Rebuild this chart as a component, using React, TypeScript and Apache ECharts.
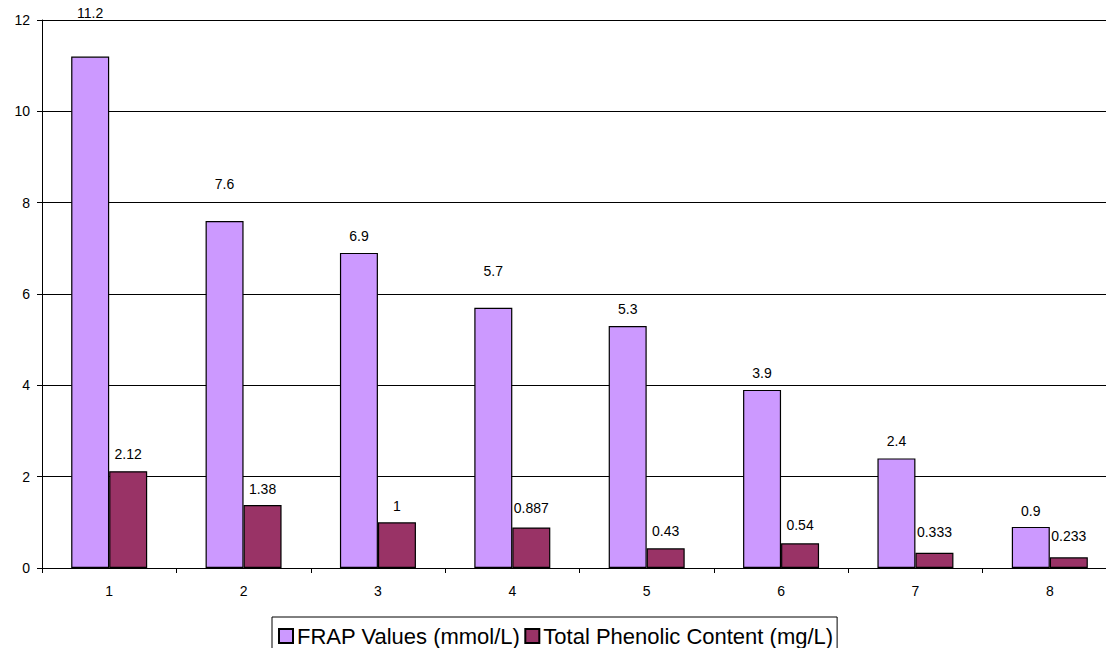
import React, { useEffect, useRef } from "react";
import * as echarts from "echarts";

const categories = ["1", "2", "3", "4", "5", "6", "7", "8"];
const frapValues = [11.2, 7.6, 6.9, 5.7, 5.3, 3.9, 2.4, 0.9];
const phenolicValues = [2.12, 1.38, 1, 0.887, 0.43, 0.54, 0.333, 0.233];
const yTicks = [0, 2, 4, 6, 8, 10, 12];
const seriesNames = ["FRAP Values (mmol/L)", "Total Phenolic Content (mg/L)"];

// label lift styling (pixels above bar top), not data
const frapLabelDistance = [37, 30, 10, 30, 10, 10, 10, 9];
const phenolicLabelDistance = [10, 9, 9, 12, 10, 11, 14, 14];

const FONT = "'Liberation Sans', Arial, sans-serif";

export default function App() {
  const ref = useRef<HTMLDivElement>(null);
  useEffect(() => {
    if (!ref.current) return;
    const chart = echarts.init(ref.current, undefined, { renderer: "svg" });
    const mk = (vals: number[], dists: number[]) =>
      vals.map((v, i) => ({
        value: v,
        label: { distance: dists[i] },
      }));
    chart.setOption({
      animation: false,
      backgroundColor: "#ffffff",
      textStyle: { fontFamily: FONT },
      grid: {
        left: 42,
        right: -11,
        top: 20,
        bottom: 80,
        containLabel: false,
        outerBoundsMode: "none",
      },
      legend: {
        data: seriesNames,
        left: 272,
        top: 617,
        orient: "horizontal",
        itemWidth: 14,
        itemHeight: 14,
        itemGap: 4,
        padding: [8, 4, 10, 6],
        borderColor: "#000",
        borderWidth: 1,
        icon: "rect",
        textStyle: { fontSize: 22, color: "#000", fontFamily: FONT, padding: [0, 0, 0, -1] },
      },
      xAxis: {
        type: "category",
        data: categories,
        axisLine: { lineStyle: { color: "#000", width: 1 } },
        axisTick: { show: true, length: 5, lineStyle: { color: "#000" } },
        axisLabel: { color: "#000", fontSize: 14, margin: 16, fontFamily: FONT },
      },
      yAxis: {
        type: "value",
        min: yTicks[0],
        max: yTicks[yTicks.length - 1],
        interval: 2,
        axisLine: { show: true, lineStyle: { color: "#000", width: 1 } },
        axisTick: { show: true, length: 5, lineStyle: { color: "#000" } },
        axisLabel: { color: "#000", fontSize: 14, margin: 12, fontFamily: FONT },
        splitLine: { show: true, lineStyle: { color: "#000", width: 1 } },
      },
      series: [
        {
          name: seriesNames[0],
          type: "bar",
          data: mk(frapValues, frapLabelDistance),
          barWidth: 38,
          barGap: "0%",
          itemStyle: { color: "#CC99FF", borderColor: "#000", borderWidth: 1.2 },
          label: {
            show: true,
            position: "top",
            color: "#000",
            fontSize: 14,
            fontFamily: FONT,
          },
        },
        {
          name: seriesNames[1],
          type: "bar",
          data: mk(phenolicValues, phenolicLabelDistance),
          barWidth: 38,
          barGap: "0%",
          itemStyle: { color: "#993366", borderColor: "#000", borderWidth: 1.2 },
          label: {
            show: true,
            position: "top",
            color: "#000",
            fontSize: 14,
            fontFamily: FONT,
          },
        },
      ],
    });
    return () => chart.dispose();
  }, []);
  return (
    <div
      ref={ref}
      style={{ width: 1106, height: 648, position: "absolute", left: 0, top: 0, overflow: "hidden" }}
    />
  );
}
